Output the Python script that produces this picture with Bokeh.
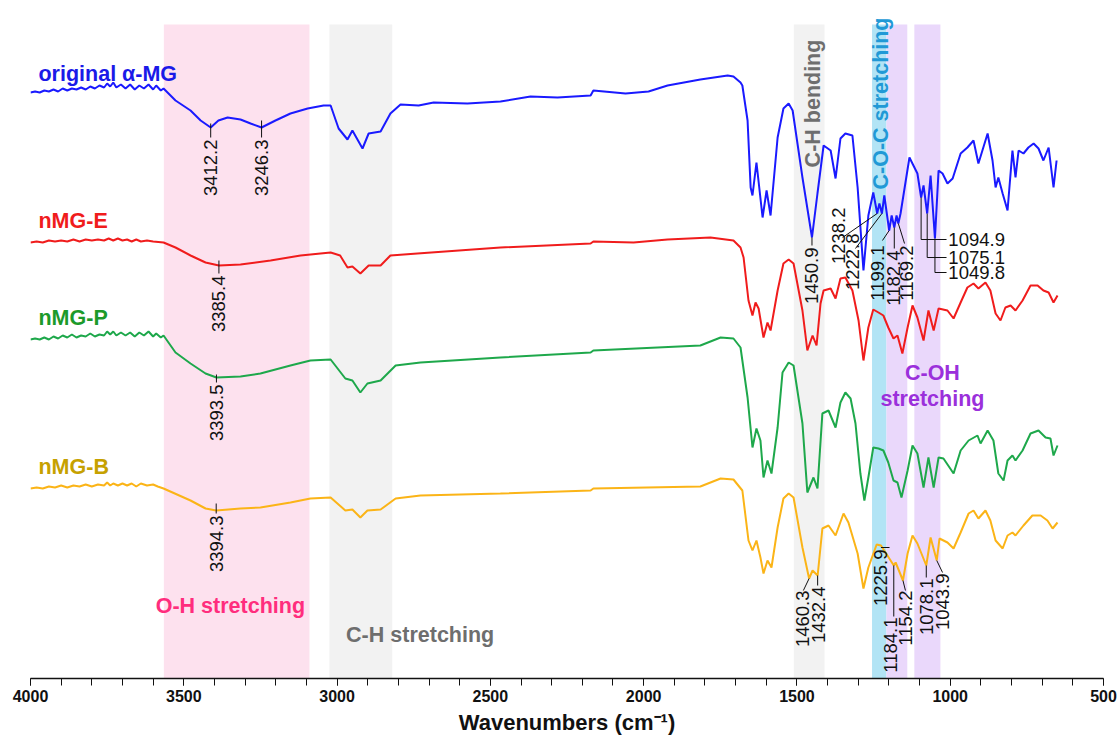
import math
import numpy as np
from bokeh.plotting import figure
from bokeh.models import Range1d, SingleIntervalTicker
from bokeh.core.properties import value
from bokeh.embed import file_html
from bokeh.resources import INLINE

# FTIR spectra: (wavenumber cm-1, stacked transmittance a.u.)
orig_amg = [(4000, 586), (3985, 587), (3970, 586), (3955, 588), (3940, 587), (3925, 589), (3910, 587),
            (3895, 590), (3880, 588), (3865, 590), (3850, 589), (3835, 591), (3820, 589), (3805, 592),
            (3790, 590), (3775, 593), (3760, 591), (3750, 595), (3740, 592), (3730, 596), (3720, 591),
            (3705, 594), (3690, 590), (3675, 594), (3660, 589), (3645, 593), (3630, 590), (3615, 594),
            (3600, 589), (3590, 593), (3575, 588), (3566, 590),
            (3527, 578), (3478, 568), (3445, 558), (3412.2, 551), (3387, 558), (3357, 561), (3315, 559),
            (3282, 555), (3246.3, 551), (3201, 558), (3152, 565), (3096, 570), (3044, 573), (3021, 573),
            (2995, 550), (2966, 539), (2950, 548), (2917, 530), (2897, 545), (2858, 547), (2826, 565),
            (2793, 574), (2734, 573), (2685, 576), (2575, 575), (2467, 577), (2369, 582), (2281, 581),
            (2173, 583), (2164, 588), (2059, 585), (1984, 587), (1922, 593), (1815, 599), (1726, 603),
            (1707, 602), (1684, 596), (1678, 593), (1661, 558), (1651, 491), (1645, 483), (1632, 516),
            (1612, 461), (1599, 488), (1586, 463), (1563, 541), (1544, 570), (1527, 575), (1514, 568),
            (1482, 501), (1450.9, 441), (1433, 485), (1413, 533), (1390, 528), (1374, 500), (1358, 540),
            (1342, 545), (1319, 543), (1302, 491), (1283, 408), (1267, 463), (1251, 486), (1238.2, 465),
            (1231, 475), (1222.8, 465), (1215, 483), (1199.1, 448), (1191, 463), (1182.4, 451),
            (1175, 463), (1169.2, 455), (1162, 465), (1133, 521), (1107, 505), (1094.9, 481),
            (1087, 493), (1075.1, 465), (1064, 503), (1049.8, 440), (1038, 508), (1025, 505),
            (1009, 495), (992, 500), (966, 525), (944, 531), (924, 538), (908, 515), (878, 545),
            (862, 518), (852, 491), (843, 501), (829, 485), (813, 468), (797, 528), (787, 501),
            (777, 528), (761, 525), (745, 531), (728, 535), (712, 530), (696, 518), (679, 531),
            (663, 491), (653, 518)]

nmg_e = [(4000, 436), (3980, 437), (3960, 436), (3940, 438), (3920, 437), (3900, 438), (3880, 437),
         (3860, 439), (3840, 437), (3820, 439), (3800, 438), (3780, 439), (3760, 438), (3745, 440),
         (3730, 438), (3715, 440), (3700, 438), (3685, 439), (3670, 437), (3655, 439), (3640, 437),
         (3620, 438), (3600, 437), (3566, 436), (3527, 431), (3478, 423), (3429, 416),
         (3385.4, 413), (3315, 414), (3217, 418), (3119, 423), (3054, 425), (3021, 426), (2990, 423),
         (2966, 411), (2950, 412), (2924, 405), (2897, 413), (2858, 413), (2826, 423), (2738, 425),
         (2467, 431), (2173, 435), (2164, 437), (2033, 436), (1922, 439), (1782, 441), (1707, 438),
         (1684, 431), (1674, 421), (1658, 378), (1645, 363), (1635, 376), (1625, 370), (1609, 341),
         (1596, 356), (1586, 348), (1563, 388), (1544, 415), (1527, 419), (1511, 415), (1482, 368),
         (1466, 328), (1449, 343), (1436, 333), (1423, 375), (1413, 388), (1390, 390), (1374, 380),
         (1358, 400), (1342, 401), (1319, 388), (1299, 358), (1283, 318), (1267, 351), (1251, 369),
         (1234, 366), (1218, 363), (1202, 351), (1185, 340), (1172, 343), (1156, 325), (1139, 351),
         (1123, 373), (1107, 361), (1087, 338), (1071, 368), (1054, 348), (1038, 370), (1009, 368),
         (989, 360), (966, 376), (944, 391), (924, 395), (908, 390), (885, 396), (869, 388),
         (852, 365), (836, 358), (820, 371), (803, 373), (787, 368), (764, 378), (738, 393),
         (715, 393), (696, 388), (679, 386), (663, 376), (650, 383)]

nmg_p = [(4000, 339), (3985, 340), (3970, 339), (3955, 341), (3940, 339), (3925, 342), (3910, 340),
         (3895, 343), (3880, 341), (3865, 344), (3850, 341), (3835, 343), (3820, 342), (3805, 345),
         (3790, 342), (3775, 344), (3760, 343), (3750, 347), (3740, 344), (3730, 347), (3720, 343),
         (3705, 346), (3690, 343), (3675, 346), (3660, 342), (3645, 346), (3630, 343), (3615, 347),
         (3600, 342), (3590, 345), (3575, 341), (3566, 343),
         (3527, 326), (3478, 315), (3429, 305), (3393.5, 301), (3315, 302), (3250, 305), (3152, 313),
         (3087, 318), (3021, 319), (2973, 300), (2950, 298), (2924, 286), (2901, 295), (2858, 298),
         (2809, 313), (2728, 316), (2467, 321), (2173, 326), (2164, 328), (1815, 333), (1749, 341),
         (1707, 340), (1684, 331), (1661, 281), (1645, 231), (1632, 250), (1619, 238), (1609, 201),
         (1596, 218), (1583, 205), (1563, 251), (1547, 306), (1527, 316), (1511, 313), (1482, 255),
         (1466, 186), (1446, 201), (1433, 190), (1417, 265), (1397, 268), (1374, 251), (1358, 276),
         (1342, 286), (1325, 280), (1309, 255), (1293, 205), (1280, 178), (1267, 201), (1251, 231),
         (1234, 230), (1218, 228), (1202, 216), (1185, 198), (1172, 196), (1159, 181), (1139, 208),
         (1123, 233), (1107, 225), (1087, 191), (1071, 221), (1054, 191), (1038, 221), (1022, 220),
         (989, 205), (966, 228), (940, 238), (911, 243), (901, 235), (878, 248), (859, 238),
         (843, 205), (826, 198), (813, 218), (797, 223), (787, 218), (764, 228), (738, 245),
         (712, 248), (689, 241), (673, 240), (663, 223), (650, 233)]

nmg_b = [(4000, 190), (3980, 191), (3960, 190), (3940, 192), (3920, 191), (3900, 193), (3880, 191),
         (3860, 193), (3840, 192), (3820, 194), (3800, 192), (3780, 194), (3760, 193), (3750, 196),
         (3740, 193), (3730, 195), (3715, 193), (3700, 195), (3685, 193), (3670, 195), (3655, 192),
         (3640, 195), (3620, 193), (3600, 194), (3585, 192), (3566, 190),
         (3478, 178), (3429, 170), (3394.3, 168), (3315, 170), (3250, 171), (3152, 176), (3087, 180),
         (3021, 181), (2973, 168), (2950, 169), (2924, 161), (2901, 168), (2858, 169), (2809, 180),
         (2728, 183), (2467, 185), (2173, 188), (2164, 190), (1815, 192), (1749, 200), (1707, 199),
         (1678, 188), (1658, 138), (1645, 128), (1632, 138), (1619, 121), (1609, 105), (1596, 118),
         (1583, 111), (1563, 151), (1544, 180), (1527, 185), (1511, 181), (1482, 131), (1460.3, 100),
         (1449, 108), (1432.4, 103), (1417, 150), (1397, 153), (1374, 143), (1348, 165), (1332, 156),
         (1302, 125), (1283, 90), (1267, 111), (1240, 134), (1225.9, 133), (1211, 126), (1184.1, 113),
         (1178, 116), (1154.2, 98), (1139, 125), (1123, 143), (1107, 135), (1078.1, 113), (1064, 141),
         (1043.9, 118), (1035, 140), (1009, 136), (989, 130), (966, 146), (940, 165), (924, 168),
         (908, 160), (885, 168), (869, 158), (852, 138), (829, 130), (813, 143), (797, 146),
         (787, 143), (761, 153), (732, 163), (705, 163), (683, 158), (666, 150), (650, 156)]

series_names = ["original α-MG", "nMG-E", "nMG-P", "nMG-B"]
series_data = [orig_amg, nmg_e, nmg_p, nmg_b]
line_colors = ["#1a1aff", "#f01c1c", "#1ea84b", "#fbb417"]
name_colors = ["#1a1ae8", "#f01c1c", "#1c9a2a", "#c6a100"]

# vibrational assignment bands (cm-1)
band_left = [3565, 3025, 1510, 1255, 1208, 1117]
band_right = [3090, 2820, 1410, 1208, 1140, 1032]
band_colors = ["#fde1ee", "#f2f2f2", "#f2f2f2", "#b2e4f5", "#ead8fb", "#ead8fb"]

# marked peak positions (cm-1) per spectrum
peaks_orig = [3412.2, 3246.3, 1450.9, 1238.2, 1222.8, 1199.1, 1182.4, 1169.2, 1094.9, 1075.1, 1049.8]
peaks_e = [3385.4]
peaks_p = [3393.5]
peaks_b = [3394.3, 1460.3, 1432.4, 1225.9, 1184.1, 1154.2, 1078.1, 1043.9]
peak_sets = [peaks_orig, peaks_e, peaks_p, peaks_b]

# label placement: short ticks through the curve (above, below)
tick_place = {3412.2: (4, 10), 3246.3: (7, 10), 1450.9: (0, 8), 3385.4: (5, 8),
              3393.5: (3, 5), 3394.3: (7, 3)}
# leader waypoints, text anchor and orientation
leader_place = {
    1238.2: ([(1351, 441)], (1364, 471), "v"),
    1222.8: ([(1309, 430)], (1319, 445), "v"),
    1199.1: ([(1221, 438)], (1237, 433), "v"),
    1182.4: ([(1182.4, 430)], (1185, 428), "v"),
    1169.2: ([(1149, 435)], (1143, 433), "v"),
    1094.9: ([(1094.9, 439), (1012, 439)], (1006, 439), "h"),
    1075.1: ([(1075.1, 421), (1012, 421)], (1006, 421), "h"),
    1049.8: ([(1049.8, 406), (1012, 406)], (1006, 406), "h"),
    1460.3: ([(1479, 88)], (1482, 88), "v"),
    1432.4: ([(1432.4, 93)], (1430, 92), "v"),
    1225.9: ([(1225.9, 131), (1198, 131)], (1225.9, 129), "v"),
    1184.1: ([(1184.1, 62)], (1196, 61), "v"),
    1154.2: ([(1146, 88)], (1146, 88), "v"),
    1078.1: ([(1078.1, 101)], (1078.1, 100), "v"),
    1043.9: ([(1025, 106)], (1025, 105), "v"),
}

FONT = value("Liberation Sans")
LABEL_SIZE = "18.5px"
CAPTION_SIZE = "21.5px"

p = figure(width=1117, height=740, x_range=Range1d(4000, 500), y_range=Range1d(0, 668),
           output_backend="svg", toolbar_location=None, y_axis_location=None,
           min_border_left=30, min_border_right=14, min_border_top=10, min_border_bottom=62)
p.outline_line_color = None
p.grid.visible = False
p.background_fill_color = "white"
p.border_fill_color = "white"

# shaded assignment bands
p.quad(left=band_left, right=band_right, bottom=0, top=654, fill_color=band_colors, line_color=None)

# spectra
for data, col in zip(series_data, line_colors):
    wn, tr = zip(*data)
    p.line(list(wn), list(tr), line_color=col, line_width=2)

# peak labels
lead_xs, lead_ys = [], []
vx, vy, vt = [], [], []
hx, hy, ht = [], [], []
for data, peaks in zip(series_data, peak_sets):
    wn, tr = zip(*data)
    wn_asc = np.array(wn[::-1], dtype=float)
    tr_asc = np.array(tr[::-1], dtype=float)
    for pk in peaks:
        c = float(np.interp(pk, wn_asc, tr_asc))
        label = f"{pk:.1f}"
        if pk in tick_place:
            up, down = tick_place[pk]
            lead_xs.append([pk, pk])
            lead_ys.append([c + up, c - down])
            vx.append(pk); vy.append(c - down - 2); vt.append(label)
        else:
            pts, anchor, orient = leader_place[pk]
            if pk == 1225.9:
                xs = [q[0] for q in pts]
                ys = [q[1] for q in pts]
            else:
                xs = [pk] + [q[0] for q in pts]
                ys = [c] + [q[1] for q in pts]
            lead_xs.append(xs); lead_ys.append(ys)
            if orient == "v":
                vx.append(anchor[0]); vy.append(anchor[1]); vt.append(label)
            else:
                hx.append(anchor[0]); hy.append(anchor[1]); ht.append(label)

p.multi_line(lead_xs, lead_ys, line_color="#111111", line_width=1)
p.text(vx, vy, text=vt, angle=math.pi / 2, text_align="right", text_baseline="middle",
       text_font=FONT, text_font_size=LABEL_SIZE, text_color="#111111")
p.text(hx, hy, text=ht, text_align="left", text_baseline="middle",
       text_font=FONT, text_font_size=LABEL_SIZE, text_color="#111111")

# spectrum names
p.text([3974] * 4, [605, 458, 361, 212], text=series_names, text_align="left",
       text_baseline="middle", text_font=FONT, text_font_size=CAPTION_SIZE, text_font_style="bold",
       text_color=name_colors)

# band captions
p.text([3348], [73], text=["O-H stretching"], text_align="center", text_baseline="middle",
       text_font=FONT, text_font_size=CAPTION_SIZE, text_font_style="bold", text_color="#ff2d7d")
p.text([2729], [44], text=["C-H stretching"], text_align="center", text_baseline="middle",
       text_font=FONT, text_font_size=CAPTION_SIZE, text_font_style="bold", text_color="#6e6e6e")
p.text([1449], [575], text=["C-H bending"], angle=math.pi / 2, text_align="center",
       text_baseline="middle", text_font=FONT, text_font_size=CAPTION_SIZE, text_font_style="bold",
       text_color="#6e6e6e")
p.text([1227], [575], text=["C-O-C stretching"], angle=math.pi / 2, text_align="center",
       text_baseline="middle", text_font=FONT, text_font_size=CAPTION_SIZE, text_font_style="bold",
       text_color="#2199d6")
p.text([1058, 1058], [306, 280], text=["C-OH", "stretching"], text_align="center",
       text_baseline="middle", text_font=FONT, text_font_size=CAPTION_SIZE, text_font_style="bold",
       text_color="#9b30db")

# x axis
ax = p.xaxis[0]
ax.ticker = SingleIntervalTicker(interval=500, num_minor_ticks=5)
ax.axis_label = "Wavenumbers (cm⁻¹)"
ax.axis_label_text_font = "Liberation Sans"
ax.axis_label_text_font_size = "22px"
ax.axis_label_text_font_style = "bold"
ax.axis_label_text_color = "#111111"
ax.axis_label_standoff = 5
ax.major_label_text_font = "Liberation Sans"
ax.major_label_text_font_size = "16px"
ax.major_label_text_font_style = "bold"
ax.major_label_text_color = "#111111"
ax.major_label_standoff = 4
ax.axis_line_color = "#111111"
ax.axis_line_width = 1.5
ax.major_tick_line_color = "#111111"
ax.minor_tick_line_color = "#111111"
ax.major_tick_out = 7
ax.major_tick_in = 0
ax.minor_tick_out = 7
ax.minor_tick_in = 0

open("out.html", "w").write(file_html(p, INLINE))
